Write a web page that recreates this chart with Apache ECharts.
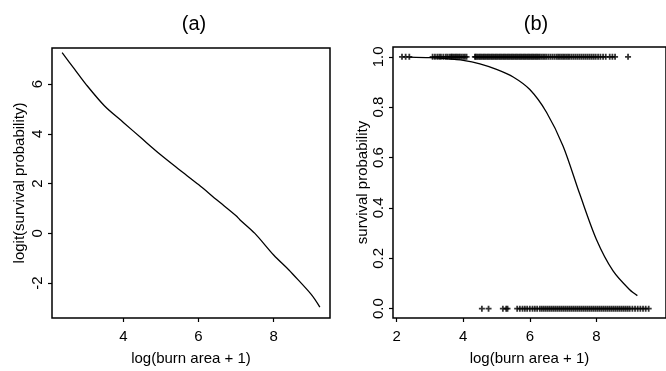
<!DOCTYPE html>
<html>
<head>
<meta charset="utf-8">
<script src="https://cdn.jsdelivr.net/npm/echarts@6/dist/echarts.min.js"></script>
<style>
  html, body { margin: 0; padding: 0; background: #fff; }
  #chart { width: 666px; height: 371px; }
</style>
</head>
<body>
<div id="chart"></div>
<script>
// (a) fitted logit curve
const logitX = [2.37, 2.7, 3.0, 3.5, 4.0, 4.5, 5.0, 5.5, 6.0, 6.5, 7.0, 7.1, 7.5, 8.0, 8.4, 8.5, 9.0, 9.23];
const logitY = [7.26, 6.6, 6.0, 5.12, 4.46, 3.8, 3.15, 2.55, 1.96, 1.33, 0.71, 0.55, 0.0, -0.87, -1.46, -1.62, -2.45, -2.96];

// (b) fitted survival probability
const probX = [2.37, 3.0, 3.5, 4.0, 4.5, 5.0, 5.5, 6.0, 6.5, 7.0, 7.5, 8.0, 8.5, 9.0, 9.23];
const probY = [0.999, 0.997, 0.993, 0.986, 0.972, 0.95, 0.92, 0.87, 0.78, 0.645, 0.455, 0.275, 0.15, 0.075, 0.052];

// observed outcomes: survived (1) and died (0), log(burn area + 1)
const survivedX = [2.16, 2.27, 2.38, 3.08, 3.15, 3.22, 3.28, 3.33, 3.40, 3.47, 3.52, 3.58, 3.63, 3.66, 3.70, 3.74, 3.78, 3.82,
  3.86, 3.90, 3.95, 4.00, 4.05, 4.10, 4.35, 4.38, 4.42, 4.46, 4.50, 4.54, 4.58, 4.62, 4.66, 4.70, 4.74, 4.78, 4.82, 4.86,
  4.90, 4.94, 4.98, 5.02, 5.06, 5.10, 5.14, 5.18, 5.22, 5.26, 5.30, 5.34, 5.38, 5.42, 5.46, 5.50, 5.54, 5.58, 5.62, 5.66,
  5.70, 5.74, 5.78, 5.82, 5.86, 5.90, 5.94, 5.98, 6.02, 6.06, 6.10, 6.14, 6.18, 6.22, 6.26, 6.30, 6.35, 6.40, 6.45, 6.50,
  6.56, 6.62, 6.68, 6.74, 6.80, 6.85, 6.90, 6.95, 7.00, 7.05, 7.10, 7.15, 7.20, 7.26, 7.32, 7.38, 7.44, 7.50, 7.56, 7.62,
  7.68, 7.74, 7.80, 7.86, 7.92, 7.98, 8.05, 8.12, 8.20, 8.28, 8.40, 8.48, 8.56, 8.95];
const diedX = [4.56, 4.76, 5.19, 5.29, 5.33, 5.62, 5.70, 5.78, 5.85, 5.92, 6.00, 6.08, 6.15, 6.22, 6.30, 6.36, 6.42, 6.48,
  6.54, 6.60, 6.66, 6.72, 6.78, 6.84, 6.90, 6.96, 7.02, 7.08, 7.14, 7.20, 7.26, 7.32, 7.38, 7.44, 7.50, 7.56, 7.62, 7.68,
  7.74, 7.80, 7.86, 7.92, 7.98, 8.04, 8.10, 8.16, 8.22, 8.28, 8.34, 8.40, 8.46, 8.52, 8.58, 8.64, 8.70, 8.76, 8.82, 8.88,
  8.94, 9.00, 9.08, 9.16, 9.24, 9.32, 9.40, 9.48, 9.57];

const ticksXa = [4, 6, 8];
const ticksYa = [-2, 0, 2, 4, 6];
const ticksXb = [2, 4, 6, 8];
const ticksYb = [0, 0.2, 0.4, 0.6, 0.8, 1.0];

const font = 'Liberation Sans, Arial, sans-serif';
const plus = 'path://M3.5,0H6.5V3.5H10V6.5H6.5V10H3.5V6.5H0V3.5H3.5Z';

function xAxis(idx, min, max, ticks) {
  return {
    type: 'value', gridIndex: idx, min: min, max: max,
    name: 'log(burn area + 1)', nameLocation: 'middle', nameGap: 33,
    nameTextStyle: { fontFamily: font, fontSize: 15, color: '#000' },
    axisLine: { show: false, onZero: false },
    axisTick: { show: true, length: 4, customValues: ticks, lineStyle: { color: '#000', width: 1.2 } },
    axisLabel: { customValues: ticks, margin: 11, fontFamily: font, fontSize: 15, color: '#000' },
    splitLine: { show: false }
  };
}
function yAxis(idx, min, max, ticks, name, gap, fmt) {
  return {
    type: 'value', gridIndex: idx, min: min, max: max,
    name: name, nameLocation: 'middle', nameGap: gap,
    nameTextStyle: { fontFamily: font, fontSize: 15, color: '#000' },
    axisLine: { show: false, onZero: false },
    axisTick: { show: true, length: 4, customValues: ticks, lineStyle: { color: '#000', width: 1.2 } },
    axisLabel: { customValues: ticks, rotate: 90, margin: 7, fontFamily: font, fontSize: 15, color: '#000', formatter: fmt },
    splitLine: { show: false }
  };
}

const chart = echarts.init(document.getElementById('chart'), null, { renderer: 'canvas' });
chart.setOption({
  animation: false,
  backgroundColor: '#fff',
  title: [
    { text: '(a)', left: 189, top: 9, textAlign: 'center', textStyle: { fontFamily: font, fontSize: 20, fontWeight: 'normal', color: '#000' } },
    { text: '(b)', left: 531, top: 9, textAlign: 'center', textStyle: { fontFamily: font, fontSize: 20, fontWeight: 'normal', color: '#000' } }
  ],
  grid: [
    { left: 52, top: 48, width: 278, height: 275, show: true, borderColor: '#000', borderWidth: 1.5, backgroundColor: 'transparent' },
    { left: 393, top: 47, width: 287, height: 276, show: true, borderColor: '#000', borderWidth: 1.5, backgroundColor: 'transparent' }
  ],
  xAxis: [
    xAxis(0, 2.1, 9.5, ticksXa),
    xAxis(1, 1.89, 10.09, ticksXb)
  ],
  yAxis: [
    yAxis(0, -3.4, 7.45, ticksYa, 'logit(survival probability)', 25, v => String(v)),
    yAxis(1, -0.037, 1.039, ticksYb, 'survival probability', 20, v => v.toFixed(1))
  ],
  series: [
    {
      type: 'line', xAxisIndex: 0, yAxisIndex: 0, showSymbol: false, smooth: 0.3,
      lineStyle: { color: '#000', width: 1.3 },
      data: logitX.map((x, i) => [x, logitY[i]])
    },
    {
      type: 'line', xAxisIndex: 1, yAxisIndex: 1, showSymbol: false, smooth: 0.3,
      lineStyle: { color: '#000', width: 1.3 },
      data: probX.map((x, i) => [x, probY[i]])
    },
    {
      type: 'scatter', xAxisIndex: 1, yAxisIndex: 1, symbol: plus, symbolSize: 6,
      itemStyle: { color: '#000' },
      data: survivedX.map(x => [x, 1])
    },
    {
      type: 'scatter', xAxisIndex: 1, yAxisIndex: 1, symbol: plus, symbolSize: 6,
      itemStyle: { color: '#000' },
      data: diedX.map(x => [x, 0])
    }
  ]
});
</script>
</body>
</html>
